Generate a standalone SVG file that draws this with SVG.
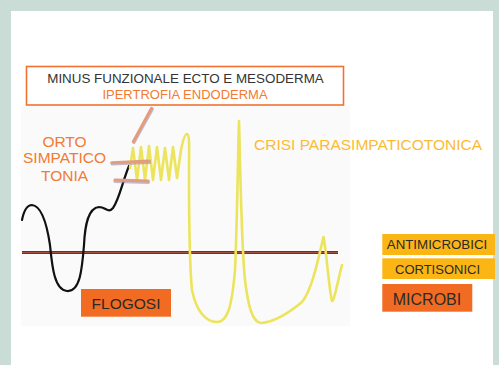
<svg xmlns="http://www.w3.org/2000/svg" width="499" height="365" viewBox="0 0 499 365">
<style>
text{font-family:"Liberation Sans",Arial,sans-serif}
.dark{fill:#2a2a2a}
.org{fill:#f27a33}
.yel{fill:none;stroke:#ece45c;stroke-width:2.6;stroke-linecap:round;stroke-linejoin:round}
.tan{fill:none;stroke:#e39c7c;stroke-width:3;stroke-linecap:round}
.tansh{fill:none;stroke:#9d8fb0;stroke-width:3;stroke-linecap:round;opacity:.6}
</style>
<rect x="0" y="0" width="499" height="365" fill="#c9ddd6"/>
<rect x="11" y="11" width="482" height="354" fill="#ffffff"/>
<rect x="21" y="106" width="329" height="220" fill="#fafafa"/>

<g id="connectors">
  <line x1="22" y1="252.5" x2="338" y2="252.5" stroke="#7d2c22" stroke-width="3"/>
  <line x1="22" y1="252.5" x2="338" y2="252.5" stroke="#b0584a" stroke-width="0.8"/>
  <path d="M22,220 C24,210 28,205 32,205 C42,206 47,225 50,245 C52,265 54,290 67,291 C80,292 82,270 84,245 C85,225 88,208 99,207 C106,207 108,214 113,208 C119,200 123,180 129,166" fill="none" stroke="#111" stroke-width="2.2" stroke-linecap="round"/>
  <path class="yel" d="M130,168 L133,148 L137,180 L141,147 L145,180 L149,146 L153,180 L157,147 L161,180 L165,148 L169,180 L173,147 L177,178 L181,150 C183,140 185,134 187,134 C190,134 189,150 189,175 C189,215 189,260 192,290 C196,310 205,322 217,322 C228,322 232,305 235,270 C237,230 238,150 239,121 C240,150 241,240 245,280 C248,305 252,322 261,323 C275,322 290,312 302,302 C312,290 318,260 323.5,237 C327,255 329,290 332,301 C334,302 338,280 342,265"/>
  <line class="tansh" x1="152.5" y1="109" x2="134" y2="142.5"/>
  <line class="tan" x1="151.5" y1="108.3" x2="133.3" y2="141.7"/>
  <line class="tansh" x1="112" y1="164" x2="149.5" y2="162.5"/>
  <line class="tan" x1="111.7" y1="162.7" x2="149.3" y2="161"/>
  <line class="tansh" x1="115" y1="181.5" x2="148.5" y2="182.5"/>
  <line class="tan" x1="115" y1="180" x2="148.3" y2="181"/>
</g>

<g id="header">
  <rect x="26.5" y="66.5" width="317" height="38.5" fill="#ffffff" stroke="#f07232" stroke-width="1.6"/>
  <text x="185.5" y="83.3" font-size="13.4" text-anchor="middle" fill="#333">MINUS FUNZIONALE ECTO E MESODERMA</text>
  <text x="185" y="99" font-size="13" text-anchor="middle" class="org">IPERTROFIA ENDODERMA</text>
</g>

<g id="ortosimpaticotonia">
  <text x="64.5" y="146.5" font-size="15.5" text-anchor="middle" class="org">ORTO</text>
  <text x="64.5" y="163.3" font-size="15.5" text-anchor="middle" class="org">SIMPATICO</text>
  <text x="64.5" y="180.7" font-size="15.5" text-anchor="middle" class="org">TONIA</text>
</g>

<g id="crisi">
  <text x="368" y="150" font-size="15.5" text-anchor="middle" fill="#fbbb35">CRISI PARASIMPATICOTONICA</text>
</g>

<g id="flogosi">
  <rect x="81" y="289" width="90" height="27.7" fill="#f26b22"/>
  <text x="126" y="309" font-size="15.5" text-anchor="middle" class="dark">FLOGOSI</text>
</g>

<g id="antimicrobici">
  <rect x="382.3" y="234" width="112.7" height="21" fill="#fbb616"/>
  <text x="437" y="249.3" font-size="13.3" text-anchor="middle" class="dark">ANTIMICROBICI</text>
</g>

<g id="cortisonici">
  <rect x="382.3" y="258.3" width="112.7" height="20.7" fill="#fbb616"/>
  <text x="437.5" y="274" font-size="13" text-anchor="middle" class="dark">CORTISONICI</text>
</g>

<g id="microbi">
  <rect x="382.3" y="284" width="90" height="27.7" fill="#f26b22"/>
  <text x="427" y="305" font-size="16" text-anchor="middle" class="dark">MICROBI</text>
</g>
</svg>
